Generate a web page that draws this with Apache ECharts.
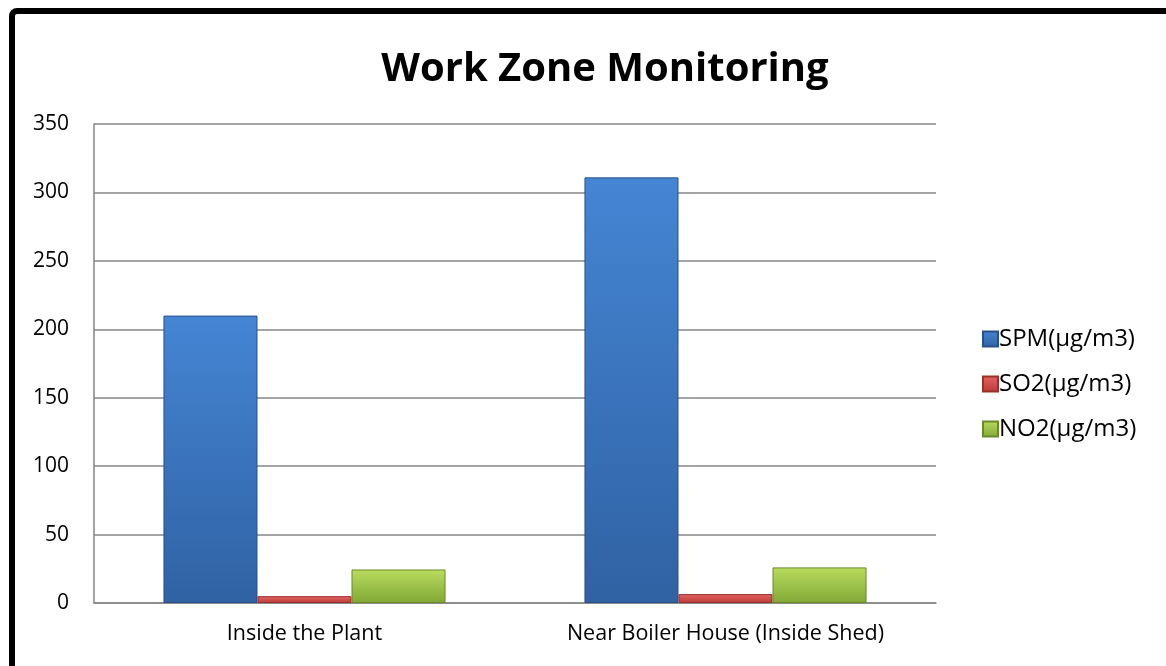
<!DOCTYPE html>
<html><head><meta charset="utf-8">
<script src="https://cdn.jsdelivr.net/npm/echarts@6/dist/echarts.min.js"></script>
<style>
html,body{margin:0;padding:0;background:#fff;}
#wrap{position:relative;width:1166px;height:666px;overflow:hidden;}
#chart{position:absolute;left:0;top:0;width:1166px;height:666px;}
#frame{position:absolute;left:9px;top:8px;width:1200px;height:700px;border:6px solid #000;border-top-left-radius:8px;box-sizing:border-box;pointer-events:none;}
</style></head>
<body><div id="wrap"><div id="chart"></div><div id="frame"></div></div>
<script>
const categories = ['Inside the Plant', 'Near Boiler House (Inside Shed)'];
const spm = [210, 311];
const so2 = [5, 6.5];
const no2 = [24.5, 26];
const seriesNames = ['SPM(µg/m3)', 'SO2(µg/m3)', 'NO2(µg/m3)'];

const FONT = '"Open Sans", sans-serif';
function grad(top, bottom){
  return new echarts.graphic.LinearGradient(0,0,0,1,[{offset:0,color:top},{offset:1,color:bottom}]);
}
const chart = echarts.init(document.getElementById('chart'), null, {renderer:'canvas'});
chart.setOption({
  backgroundColor:'#fff',
  animation:false,
  title:{text:'Work Zone Monitoring', left:600, top:45, textAlign:'center',
    textStyle:{fontFamily:FONT, fontSize:40, fontWeight:'bold', color:'#000'}},
  legend:{orient:'vertical', left:977, top:322, itemGap:21, itemWidth:15, itemHeight:15,
    icon:'rect',
    textStyle:{fontFamily:FONT, fontSize:24, color:'#000', padding:[0,0,0,-4]},
    data:seriesNames},
  grid:{left:94, right:230, top:124, bottom:63, containLabel:false},
  xAxis:{type:'category', data:categories,
    axisLine:{lineStyle:{color:'#868686', width:1.5}},
    axisTick:{show:false},
    axisLabel:{fontFamily:FONT, fontSize:21.5, color:'#000', margin:20}},
  yAxis:{type:'value', min:0, max:350, interval:50,
    axisLine:{show:true, lineStyle:{color:'#868686', width:1.5}},
    axisTick:{show:false},
    splitLine:{lineStyle:{color:'#868686', width:1.5}},
    axisLabel:{fontFamily:FONT, fontSize:21, color:'#000', margin:25}},
  series:[
    {name:seriesNames[0], type:'bar', data:spm, barGap:'0%', barCategoryGap:'33%',
      itemStyle:{color:grad('#4585d4','#2f62a3'), borderColor:'#2a5089', borderWidth:1}},
    {name:seriesNames[1], type:'bar', data:so2,
      itemStyle:{color:grad('#e46663','#b93a36'), borderColor:'#9a2f2c', borderWidth:1}},
    {name:seriesNames[2], type:'bar', data:no2,
      itemStyle:{color:grad('#b9dc5e','#82a836'), borderColor:'#6a8a2a', borderWidth:1}}
  ]
});
</script></body></html>
